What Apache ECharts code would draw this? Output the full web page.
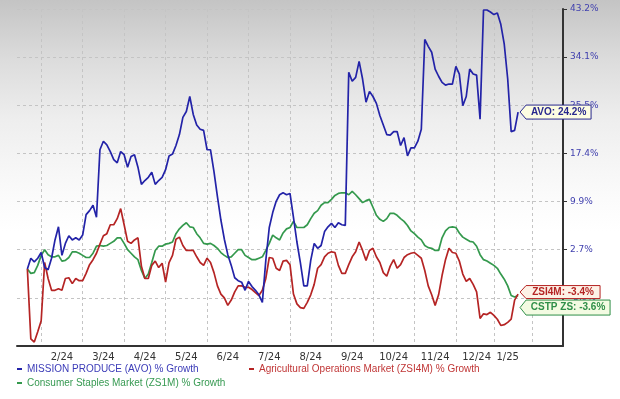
<!DOCTYPE html>
<html>
<head>
<meta charset="utf-8">
<script src="https://cdn.jsdelivr.net/npm/echarts@6/dist/echarts.min.js"></script>
<style>
html, body { margin: 0; padding: 0; background: #fff; }
#main {
	width: 620px; height: 399px;
	background: linear-gradient(to bottom, #c4c4c4 0%, #dcdcdc 15%, #eeeeee 30%, #fafafa 48%, #ffffff 58%);
}
</style>
</head>
<body>
<div id="main"></div>
<script>
	// 横轴：每格一个采样点，数据前后各留一些空格
	var LEAD = 3;
	var TAIL = 13;
	var MONTH_LABELS = ['2/24', '3/24', '4/24', '5/24', '6/24', '7/24', '8/24', '9/24', '10/24', '11/24', '12/24', '1/25'];
	var LABEL_IDX = [13, 25, 37, 49, 61, 73, 85, 97, 109, 121, 133, 142];
	var GRID_IDX = [7, 19, 31, 43, 55, 67, 79, 91, 103, 115, 127, 138, 149];
	// 纵轴刻度 (% 增长，对数刻度)
	var Y_TICKS = [-10.1, -3.9, 2.7, 9.9, 17.4, 25.5, 34.1, 43.2];

	// MISSION PRODUCE (AVO) % 增长
	var avo = [
		0.0, 1.5, 1.0, 1.5, 2.3, 0.2, -0.1, 1.5, 4.1, 6.0,
		1.9, 3.6, 4.7, 4.1, 4.4, 4.1, 4.8, 7.8, 8.4, 9.2,
		7.4, 17.9, 19.3, 18.7, 17.6, 16.3, 15.8, 17.6, 17.1, 15.1,
		16.8, 17.1, 15.1, 12.4, 13.0, 13.5, 14.3, 12.4, 13.0, 13.5,
		14.7, 16.9, 17.2, 18.6, 20.4, 23.3, 24.3, 26.9, 23.8, 22.0,
		21.3, 21.1, 17.9, 17.9, 14.4, 10.5, 7.0, 4.2, 2.0, 0.5,
		-1.2, -1.6, -1.8, -2.9, -1.7, -2.4, -2.9, -3.5, -4.5, 1.2,
		5.9, 8.1, 9.8, 10.8, 11.1, 10.8, 11.0, 7.4, 3.8, 0.9,
		-2.3, -2.3, 1.2, 3.6, 2.9, 3.3, 5.3, 6.0, 6.5, 5.9,
		6.6, 6.3, 6.2, 31.2, 29.6, 30.3, 33.2, 30.0, 25.9, 27.8,
		26.9, 25.7, 23.6, 22.0, 20.4, 20.3, 20.9, 20.9, 18.6, 19.9,
		16.9, 18.2, 18.2, 19.3, 21.3, 37.3, 36.0, 34.9, 31.8, 30.5,
		29.4, 28.9, 29.1, 29.1, 32.3, 30.9, 25.3, 26.9, 31.8, 30.9,
		30.7, 23.0, 43.0, 43.0, 42.6, 42.1, 42.4, 40.2, 36.4, 30.0,
		20.9, 21.1, 24.2
	];
	// Agricultural Operations Market (ZSI4M) % 增长
	var zsi4m = [
		0.0, -9.2, -9.6, -8.3, -6.9, 0.9, -1.3, -2.9, -2.9, -2.7,
		-2.9, -1.3, -1.2, -2.0, -1.3, -1.6, -1.6, -0.6, 0.6, 1.3,
		2.2, 3.5, 4.7, 5.0, 6.3, 6.3, 7.2, 8.7, 6.3, 3.9,
		3.6, 4.1, 4.4, 0.4, -1.3, -1.3, 0.5, 1.1, 0.2, 0.8,
		-1.8, 0.9, 1.9, 4.2, 4.5, 3.3, 2.6, 2.6, 2.6, 1.7,
		0.9, 0.5, 1.5, 0.9, -0.5, -2.3, -3.4, -3.9, -4.9, -4.2,
		-3.1, -2.3, -2.3, -2.5, -2.5, -2.8, -3.2, -3.6, -2.9, -1.3,
		1.6, 1.5, 0.1, -0.2, 1.1, 1.2, 0.6, -3.4, -4.7, -5.2,
		-5.3, -4.5, -3.5, -2.1, 0.1, 0.6, 1.7, 2.2, 2.4, 2.3,
		0.5, -0.6, -0.6, 0.6, 1.7, 2.4, 3.8, 2.6, 1.2, 2.6,
		2.9, 1.7, 0.9, -0.5, -1.0, 0.4, 1.3, 0.1, 0.6, 1.6,
		2.0, 2.2, 2.3, 1.9, 1.5, -0.2, -2.3, -3.5, -4.9, -3.5,
		-0.9, 1.3, 2.9, 2.3, 2.2, 1.1, -0.7, -1.7, -1.3, -2.1,
		-3.1, -6.6, -6.0, -6.1, -5.8, -6.2, -6.7, -7.5, -7.4, -7.1,
		-6.7, -4.2, -3.4
	];
	// Consumer Staples Market (ZS1M) % 增长
	var zs1m = [
		0.0, -0.6, -0.5, 0.5, 1.9, 2.7, 2.0, 1.7, 1.7, 1.9,
		1.1, 1.2, 1.6, 2.4, 2.4, 2.2, 1.9, 1.6, 1.6, 2.2,
		3.2, 3.3, 3.2, 3.3, 3.6, 3.9, 4.4, 4.4, 3.6, 2.7,
		2.2, 1.7, 1.3, -0.2, -1.3, -0.7, 0.9, 2.6, 3.2, 3.2,
		3.5, 3.6, 3.8, 5.0, 5.7, 6.2, 6.6, 6.0, 5.9, 5.0,
		4.4, 3.6, 3.5, 3.6, 3.3, 2.9, 2.3, 1.9, 1.6, 1.7,
		2.2, 2.7, 2.7, 1.9, 1.6, 1.3, 1.3, 1.5, 1.7, 2.6,
		3.6, 4.8, 4.4, 4.1, 5.1, 5.7, 5.9, 6.8, 5.9, 5.9,
		5.9, 6.3, 7.2, 8.0, 8.4, 9.2, 9.6, 9.6, 10.1, 10.7,
		11.0, 11.1, 11.1, 10.8, 11.3, 10.8, 10.2, 9.6, 9.9, 10.1,
		8.9, 7.7, 7.1, 6.8, 7.2, 8.0, 8.0, 7.7, 7.2, 6.8,
		6.2, 5.4, 5.0, 4.5, 4.1, 3.3, 3.0, 2.9, 2.6, 2.6,
		4.4, 5.4, 5.9, 6.0, 5.9, 5.1, 4.5, 4.2, 3.9, 3.8,
		3.2, 2.0, 1.3, 1.1, 0.8, 0.5, 0.1, -0.7, -1.4, -2.3,
		-3.6, -3.8, -3.6
	];

	var NAME_AVO = 'MISSION PRODUCE (AVO) % Growth';
	var NAME_ZSI = 'Agricultural Operations Market (ZSI4M) % Growth';
	var NAME_ZS1 = 'Consumer Staples Market (ZS1M) % Growth';

	// 对数刻度：2.7% 为第 0 格，43.2% 为第 5 格
	var BASE = Math.log(1 + Y_TICKS[2] / 100);
	var STEP = (Math.log(1 + Y_TICKS[7] / 100) - BASE) / 5;
	function toAxis(g) {
		return (Math.log(1 + g / 100) - BASE) / STEP;
	}

	// 类目：按日期
	var cats = [];
	var total = LEAD + avo.length + TAIL;
	for (var i = 0; i < total; i++) {
		var d = new Date(2024, 0, 24 + Math.round((i - LEAD) * 366 / 142));
		cats.push(d.getFullYear() + '-' + (d.getMonth() + 1) + '-' + d.getDate());
	}

	function pad(arr) {
		var out = [];
		for (var i = 0; i < LEAD; i++) out.push('-');
		arr.forEach(function (g) { out.push(toAxis(g)); });
		while (out.length < total) out.push('-');
		return out;
	}

	// 末端标签（左边带尖角的小框）
	// 路径外框取正方形，避免边框被不等比缩放
	function tag(arr, text, w, h, dy, color, bg) {
		var last = arr.length - 1;
		var c = w / 2, t = c - h / 2, b = c + h / 2;
		var path = 'path://M0,0M' + w + ',' + w +
			'M0,' + c + 'L6,' + t + 'L' + w + ',' + t + 'L' + w + ',' + b + 'L6,' + b + 'Z';
		return {
			silent: true,
			symbol: path,
			symbolSize: [w, w],
			symbolOffset: [w / 2 + 2, dy],
			itemStyle: { color: bg, borderColor: color, borderWidth: 1 },
			label: {
				show: true,
				position: 'inside',
				offset: [3, 0],
				color: color,
				fontSize: 10,
				fontWeight: 'bold',
				fontFamily: 'Liberation Sans',
				formatter: text + ': ' + arr[last].toFixed(1) + '%'
			},
			data: [{ coord: [LEAD + last, toAxis(arr[last])] }]
		};
	}

	var myChart = echarts.init(document.getElementById('main'));
	var font = 'Liberation Sans';
	option = {
		animation: false,
		backgroundColor: 'transparent',
		grid: { left: 17, right: 57, top: 9, bottom: 53 },
		legend: [{
			data: [NAME_AVO], left: 12, top: 359,
			icon: 'rect', itemWidth: 5, itemHeight: 2, selectedMode: false,
			textStyle: { color: '#3b3bb8', fontSize: 10, fontFamily: font }
		}, {
			data: [NAME_ZSI], left: 244, top: 359,
			icon: 'rect', itemWidth: 5, itemHeight: 2, selectedMode: false,
			textStyle: { color: '#c03636', fontSize: 10, fontFamily: font }
		}, {
			data: [NAME_ZS1], left: 12, top: 373,
			icon: 'rect', itemWidth: 5, itemHeight: 2, selectedMode: false,
			textStyle: { color: '#379a52', fontSize: 10, fontFamily: font }
		}],
		xAxis: {
			type: 'category',
			data: cats,
			boundaryGap: false,
			axisLine: { onZero: false, lineStyle: { color: '#333', width: 2 } },
			axisTick: { show: false },
			axisLabel: {
				interval: function (idx) { return LABEL_IDX.indexOf(idx) >= 0; },
				formatter: function (v, idx) { return MONTH_LABELS[LABEL_IDX.indexOf(idx)]; },
				color: '#333',
				fontSize: 10,
				fontFamily: 'DejaVu Sans',
				margin: 6
			},
			splitLine: {
				show: true,
				interval: function (idx) { return GRID_IDX.indexOf(idx) >= 0; },
				lineStyle: { color: '#c4c4c4', type: [3, 3], width: 1 }
			}
		},
		yAxis: {
			type: 'value',
			position: 'right',
			min: -2,
			max: 5,
			interval: 1,
			axisLine: { show: true, lineStyle: { color: '#333', width: 2 } },
			axisTick: { show: true, length: 4, lineStyle: { color: '#333' } },
			axisLabel: {
				showMinLabel: false,
				formatter: function (v) { return Y_TICKS[Math.round(v) + 2].toFixed(1) + '%'; },
				color: '#4040ae',
				fontSize: 9,
				fontFamily: 'DejaVu Sans',
				margin: 7
			},
			splitLine: { lineStyle: { color: '#c4c4c4', type: [3, 3], width: 1 } }
		},
		series: [{
			name: NAME_ZS1,
			type: 'line',
			data: pad(zs1m),
			showSymbol: false,
			color: '#34994d',
			lineStyle: { width: 1.7 },
			z: 2,
			markPoint: tag(zs1m, 'CSTP ZS', 90, 15, 12, '#2f8f48', '#f3fbe2')
		}, {
			name: NAME_ZSI,
			type: 'line',
			data: pad(zsi4m),
			showSymbol: false,
			color: '#b52424',
			lineStyle: { width: 1.7 },
			z: 3,
			markPoint: tag(zsi4m, 'ZSI4M', 80, 13, -2, '#b52424', '#fdf1e6')
		}, {
			name: NAME_AVO,
			type: 'line',
			data: pad(avo),
			showSymbol: false,
			color: '#2323a8',
			lineStyle: { width: 1.7 },
			z: 4,
			markPoint: tag(avo, 'AVO', 71, 14, 0, '#28288e', '#fdfde2')
		}]
	};
	myChart.setOption(option);
</script>
</body>
</html>
